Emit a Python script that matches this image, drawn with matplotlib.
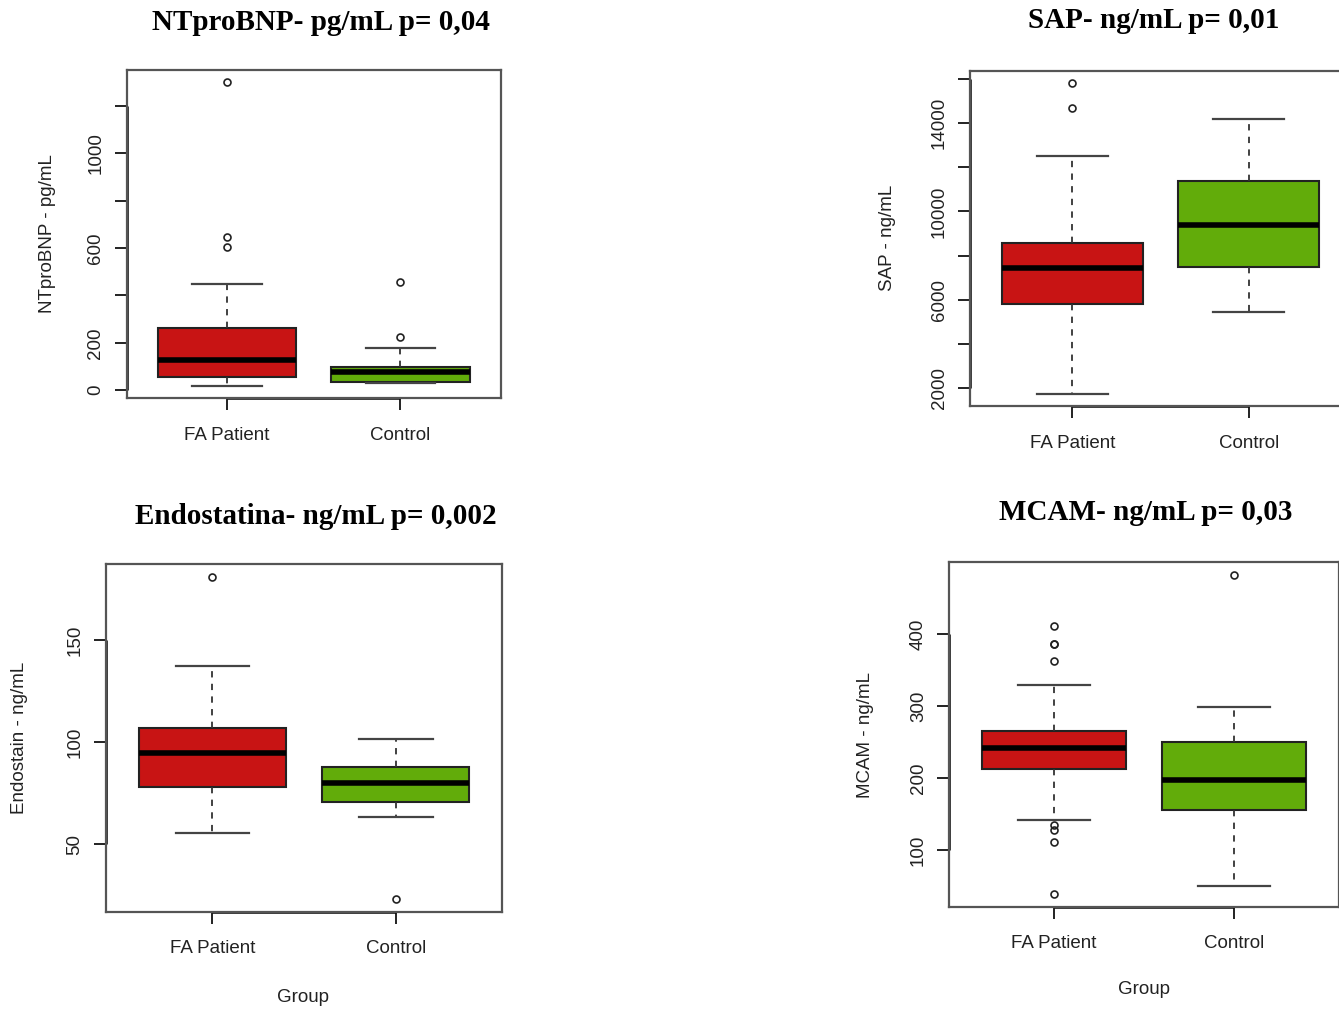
import matplotlib
matplotlib.use("Agg")
import matplotlib.pyplot as plt

# groups on the x axis
groups = ["FA Patient", "Control"]
box_colors = ["#C81414", "#62AC0A"]

# box stats: [lower whisker, Q1, median, Q3, upper whisker]
ntprobnp_fa = [17, 55, 129, 264, 449]
ntprobnp_ctrl = [31, 35, 77, 97, 177]
ntprobnp_fa_out = [604, 649, 1301]
ntprobnp_ctrl_out = [223, 455]
ntprobnp_ticks = [0, 200, 400, 600, 800, 1000, 1200]
ntprobnp_ticklabels = ["0", "200", "", "600", "", "1000", ""]

sap_fa = [1755, 5818, 7435, 8580, 12520]
sap_ctrl = [5442, 7494, 9409, 11375, 14196]
sap_fa_out = [14708, 15813]
sap_ctrl_out = []
sap_ticks = [2000, 4000, 6000, 8000, 10000, 12000, 14000, 16000]
sap_ticklabels = ["2000", "", "6000", "", "10000", "", "14000", ""]

endo_fa = [55.3, 78, 94.9, 107, 137.3]
endo_ctrl = [63.5, 70.5, 80.1, 87.9, 101.6]
endo_fa_out = [181]
endo_ctrl_out = [23.2]
endo_ticks = [50, 100, 150]
endo_ticklabels = ["50", "100", "150"]

mcam_fa = [142, 213, 242, 266, 330]
mcam_ctrl = [50, 155, 197, 250, 299.5]
mcam_fa_out = [38.8, 110.7, 127.8, 134.8, 363, 386, 386, 412]
mcam_ctrl_out = [482.5]
mcam_ticks = [100, 200, 300, 400]
mcam_ticklabels = ["100", "200", "300", "400"]

W, H = 1339, 1010
plt.rcParams["font.family"] = ["Liberation Sans", "DejaVu Sans"]
fig = plt.figure(figsize=(W / 100, H / 100), dpi=100)
fig.patch.set_facecolor("white")


def px_axes(left, right, top, bottom):
    return fig.add_axes([left / W, 1 - bottom / H, (right - left) / W, (bottom - top) / H])


def panel(ax, fa, ctrl, fa_out, ctrl_out, ticks, ticklabels):
    stats = []
    for label, s, out in [(groups[0], fa, fa_out), (groups[1], ctrl, ctrl_out)]:
        stats.append(dict(label=label, whislo=s[0], q1=s[1], med=s[2], q3=s[3],
                          whishi=s[4], fliers=out))
    res = ax.bxp(stats, positions=[1, 2], widths=0.8, capwidths=0.4, patch_artist=True,
                 boxprops=dict(edgecolor="#222222", linewidth=1.5),
                 medianprops=dict(color="black", linewidth=4, solid_capstyle="butt"),
                 whiskerprops=dict(color="#333333", linewidth=1.3, linestyle=(0, (3.5, 3.5))),
                 capprops=dict(color="#444444", linewidth=1.6),
                 flierprops=dict(marker="o", markersize=5, markerfacecolor="none",
                                 markeredgecolor="#222222", markeredgewidth=1.2))
    for patch, c in zip(res["boxes"], box_colors):
        patch.set_facecolor(c)

    vals = fa + ctrl + fa_out + ctrl_out
    lo, hi = min(vals), max(vals)
    pad = 0.04 * (hi - lo)
    ax.set_ylim(lo - pad, hi + pad)
    ax.set_xlim(0.5 - 0.08, 2.5 + 0.08)

    ax.set_yticks(ticks)
    ax.set_yticklabels(ticklabels)
    ax.set_xticks([1, 2])
    ax.set_xticklabels(groups)
    ax.tick_params(axis="both", direction="out", length=8.6, width=1.4, color="#222222",
                   labelsize=13.5, labelcolor="#222222")
    ax.tick_params(axis="x", pad=12)
    ax.tick_params(axis="y", pad=7.5, labelrotation=90)
    for t in ax.get_yticklabels():
        t.set_va("center")
    for sp in ax.spines.values():
        sp.set_color("#555555")
        sp.set_linewidth(1.6)
    # R-style axis lines spanning first to last tick
    ax.plot([0.5 - 0.08] * 2, [ticks[0], ticks[-1]], color="black", lw=1.8,
            clip_on=False, solid_capstyle="butt")
    ax.plot([1, 2], [lo - pad] * 2, color="black", lw=1.8, clip_on=False,
            solid_capstyle="butt")


def ftext(x, y, s, **kw):
    fig.text(x / W, 1 - y / H, s, ha="center", va="center", **kw)


title_kw = dict(family=["Liberation Serif", "DejaVu Serif"], fontweight="bold", fontsize=21,
                color="black")
lab_kw = dict(fontsize=13.5, color="#222222")

ax1 = px_axes(126.7, 500.7, 70, 398.3)
panel(ax1, ntprobnp_fa, ntprobnp_ctrl, ntprobnp_fa_out, ntprobnp_ctrl_out,
      ntprobnp_ticks, ntprobnp_ticklabels)
ftext(320.5, 22, "NTproBNP- pg/mL p= 0,04", **title_kw)
ftext(47, 234, "NTproBNP - pg/mL", rotation=90, **lab_kw)

ax2 = px_axes(970, 1351, 70.7, 406)
panel(ax2, sap_fa, sap_ctrl, sap_fa_out, sap_ctrl_out, sap_ticks, sap_ticklabels)
ftext(1154, 20, "SAP- ng/mL p= 0,01", **title_kw)
ftext(887, 238, "SAP - ng/mL", rotation=90, **lab_kw)

ax3 = px_axes(106, 502.3, 564, 911.7)
panel(ax3, endo_fa, endo_ctrl, endo_fa_out, endo_ctrl_out, endo_ticks, endo_ticklabels)
ftext(316, 517, "Endostatina- ng/mL p= 0,002", **title_kw)
ftext(20, 738, "Endostain - ng/mL", rotation=90, **lab_kw)
ftext(303, 997, "Group", **lab_kw)

ax4 = px_axes(949.3, 1338.5, 562.3, 906.7)
panel(ax4, mcam_fa, mcam_ctrl, mcam_fa_out, mcam_ctrl_out, mcam_ticks, mcam_ticklabels)
ftext(1146, 513, "MCAM- ng/mL p= 0,03", **title_kw)
ftext(866, 735, "MCAM - ng/mL", rotation=90, **lab_kw)
ftext(1144, 990, "Group", **lab_kw)

fig.savefig("out.png", dpi=100)
